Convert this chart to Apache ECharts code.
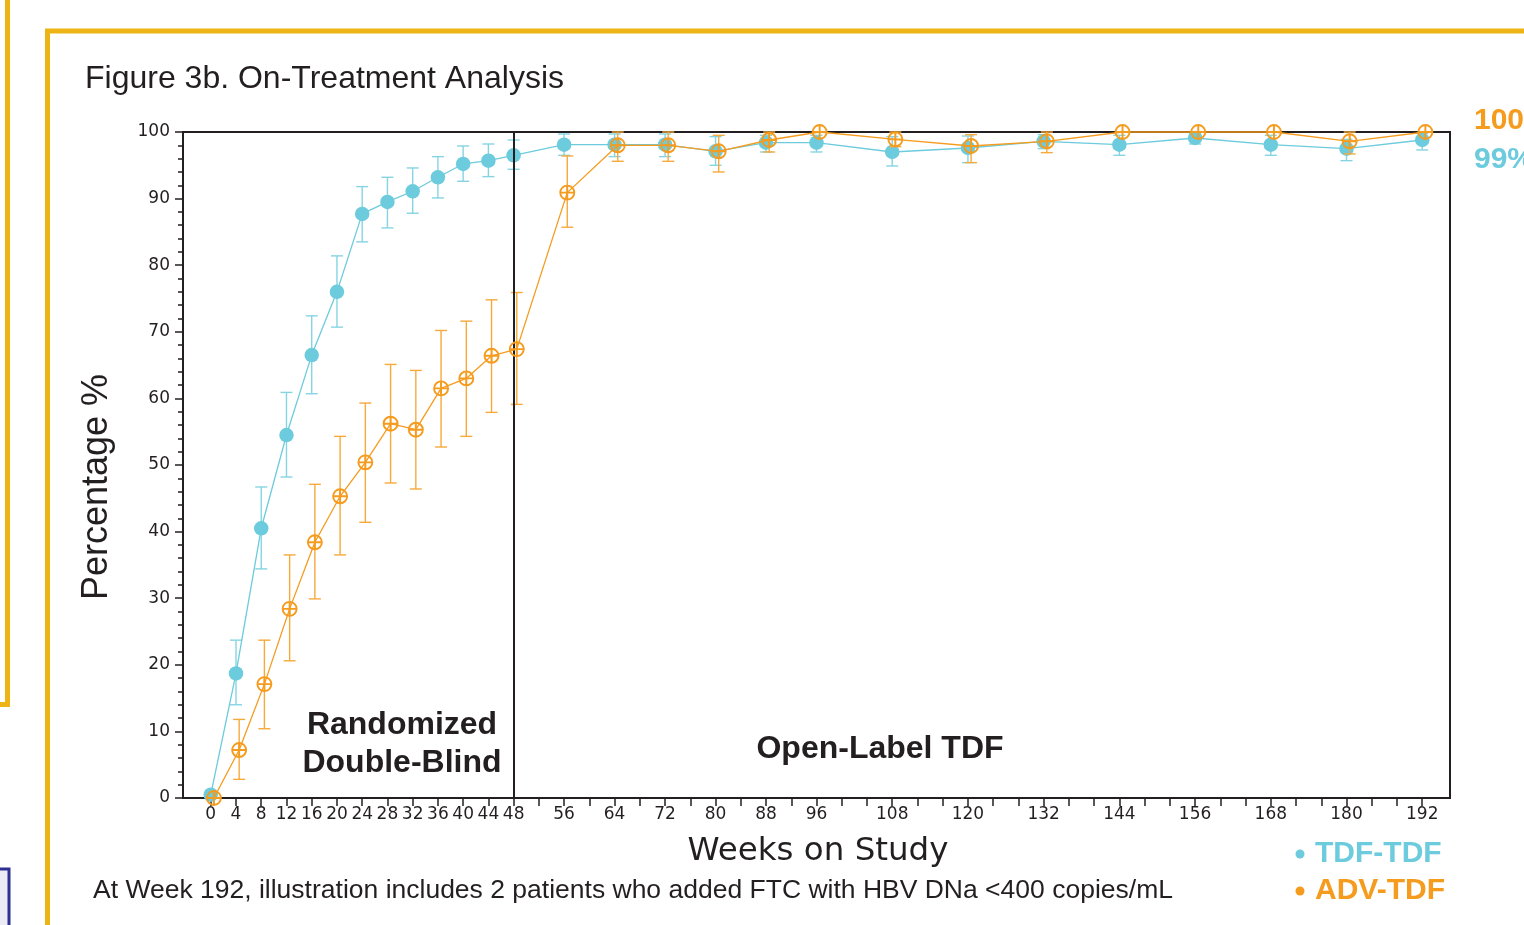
<!DOCTYPE html>
<html>
<head>
<meta charset="utf-8">
<title>Figure 3b. On-Treatment Analysis</title>
<script src="https://cdn.jsdelivr.net/npm/echarts@6/dist/echarts.min.js"></script>
<style>
  html, body { margin: 0; padding: 0; background: #fff; }
  #chart { width: 1524px; height: 925px; }
</style>
</head>
<body>
<div id="chart"></div>
<script type="text/javascript">
// weeks on study
var weeks = [0, 4, 8, 12, 16, 20, 24, 28, 32, 36, 40, 44, 48, 56, 64, 72, 80, 88, 96, 108, 120, 132, 144, 156, 168, 180, 192];
var weekLabels = [0, 4, 8, 12, 16, 20, 24, 28, 32, 36, 40, 44, 48, 56, 64, 72, 80, 88, 96, 108, 120, 132, 144, 156, 168, 180, 192];
var weekTicks = [];
for (var t = 0; t <= 192; t += 4) weekTicks.push(t);

// TDF-TDF: % with HBV DNA < 400 copies/mL, with error bar ends
var tdfPct  = [0.5, 18.7, 40.5, 54.5, 66.5, 76.0, 87.7, 89.5, 91.1, 93.2, 95.2, 95.7, 96.5, 98.1, 98.1, 98.1, 97.1, 98.4, 98.4, 97.0, 97.6, 98.6, 98.1, 99.1, 98.1, 97.5, 98.8];
var tdfLow  = [0.5, 14.0, 34.4, 48.2, 60.7, 70.7, 83.5, 85.6, 87.8, 90.1, 92.6, 93.3, 94.4, 96.5, 96.3, 96.3, 95.0, 97.0, 97.0, 94.9, 95.4, 97.5, 96.5, 98.2, 96.5, 95.7, 97.3];
var tdfHigh = [0.5, 23.7, 46.7, 60.9, 72.4, 81.4, 91.8, 93.2, 94.6, 96.3, 97.9, 98.2, 98.8, 99.7, 99.7, 99.7, 99.3, 99.5, 99.5, 99.3, 99.4, 99.6, 99.5, 99.8, 99.5, 98.9, 99.8];

// ADV-TDF
var advPct  = [0, 7.2, 17.1, 28.4, 38.4, 45.3, 50.4, 56.2, 55.3, 61.5, 63.0, 66.4, 67.4, 90.9, 98.0, 98.0, 97.1, 98.8, 100, 98.9, 97.9, 98.6, 100, 100, 100, 98.6, 100];
var advLow  = [0, 2.8, 10.4, 20.6, 29.9, 36.5, 41.4, 47.3, 46.4, 52.7, 54.3, 57.9, 59.1, 85.7, 95.6, 95.6, 94.0, 97.0, 100, 97.8, 95.4, 96.9, 100, 100, 100, 96.7, 100];
var advHigh = [0, 11.8, 23.7, 36.5, 47.1, 54.3, 59.3, 65.1, 64.2, 70.2, 71.6, 74.8, 75.9, 96.4, 100, 100, 99.5, 100, 100, 100, 99.6, 100, 100, 100, 100, 100, 100];

var CYAN = '#6ccbdc', CYAN_BAR = '#86d4e2';
var ORANGE = '#f59b1e', ORANGE_BAR = '#f7a93c';
var GOLD = '#ecb415', INK = '#231f20';
var DODGE = 0.5; // ADV-TDF points are drawn slightly right of TDF-TDF

var chart = echarts.init(document.getElementById('chart'));

function pts(xs, ys, dx) {
  return xs.map(function (x, i) { return [x + dx, ys[i]]; });
}
function bars(xs, lo, hi, dx) {
  return xs.map(function (x, i) { return [x + dx, lo[i], hi[i]]; });
}
function errorBar(color) {
  return function (params, api) {
    var x = api.value(0), lo = api.value(1), hi = api.value(2);
    if (hi <= lo) return null;
    var a = api.coord([x, hi]), b = api.coord([x, lo]);
    var w = 6, st = { stroke: color, lineWidth: 1.4 };
    return {
      type: 'group',
      children: [
        { type: 'line', shape: { x1: a[0], y1: a[1], x2: b[0], y2: b[1] }, style: st },
        { type: 'line', shape: { x1: a[0] - w, y1: a[1], x2: a[0] + w, y2: a[1] }, style: st },
        { type: 'line', shape: { x1: b[0] - w, y1: b[1], x2: b[0] + w, y2: b[1] }, style: st }
      ]
    };
  };
}

var circleCross = 'path://M1,10A9,9 0 1,1 19,10A9,9 0 1,1 1,10Z M10,1L10,19 M1,10L19,10';

var option = {
  animation: false,
  grid: {
    left: 183, right: 74, top: 132, bottom: 127,
    show: true, borderColor: INK, borderWidth: 2, backgroundColor: 'transparent'
  },
  xAxis: {
    type: 'value', min: -4.4, max: 196.4,
    axisLine: { onZero: false, lineStyle: { color: INK, width: 2 } },
    axisTick: { show: true, length: 8, lineStyle: { color: INK, width: 1.5 }, customValues: weekTicks },
    axisLabel: { customValues: weekLabels, color: INK, fontFamily: 'DejaVu Sans', fontSize: 17, margin: 8 },
    splitLine: { show: false }
  },
  yAxis: {
    type: 'value', min: 0, max: 100, interval: 10,
    axisLine: { show: true, onZero: false, lineStyle: { color: INK, width: 2 } },
    axisTick: { show: true, length: 8, lineStyle: { color: INK, width: 1.5 } },
    minorTick: { show: true, splitNumber: 5, length: 5, lineStyle: { color: INK, width: 1.5 } },
    axisLabel: { color: INK, fontFamily: 'DejaVu Sans', fontSize: 17, margin: 13 },
    splitLine: { show: false }
  },
  series: [
    {
      type: 'custom', name: 'TDF-TDF bars', clip: false, z: 2,
      renderItem: errorBar(CYAN_BAR),
      encode: { x: 0, y: [1, 2] },
      data: bars(weeks, tdfLow, tdfHigh, 0)
    },
    {
      type: 'line', name: 'TDF-TDF', clip: false, z: 3,
      data: pts(weeks, tdfPct, 0),
      symbol: 'circle', symbolSize: 14.5,
      itemStyle: { color: CYAN },
      lineStyle: { color: CYAN, width: 1.3 },
      markLine: {
        silent: true, symbol: 'none', label: { show: false },
        lineStyle: { color: INK, width: 2, type: 'solid' },
        data: [{ xAxis: 48 }]
      }
    },
    {
      type: 'custom', name: 'ADV-TDF bars', clip: false, z: 4,
      renderItem: errorBar(ORANGE_BAR),
      encode: { x: 0, y: [1, 2] },
      data: bars(weeks, advLow, advHigh, DODGE)
    },
    {
      type: 'line', name: 'ADV-TDF', clip: false, z: 5,
      data: pts(weeks, advPct, DODGE),
      symbol: circleCross, symbolSize: 14,
      itemStyle: { color: 'rgba(255,255,255,0)', borderColor: ORANGE, borderWidth: 1.9 },
      lineStyle: { color: ORANGE, width: 1.3 }
    }
  ],
  graphic: [
    // page frames
    { type: 'rect', shape: { x: 47.5, y: 31, width: 2000, height: 2000 }, style: { fill: 'none', stroke: GOLD, lineWidth: 5 }, z: 0 },
    { type: 'rect', shape: { x: -100, y: -100, width: 107.5, height: 804.5 }, style: { fill: 'none', stroke: GOLD, lineWidth: 5 }, z: 0 },
    { type: 'rect', shape: { x: -100, y: 869, width: 109, height: 200 }, style: { fill: '#ecebf5', stroke: '#2e3192', lineWidth: 3 }, z: 0 },
    // titles and labels
    { type: 'text', x: 85, y: 79, style: { text: 'Figure 3b. On-Treatment Analysis', font: '32px "Liberation Sans", Arial, sans-serif', fill: INK, textVerticalAlign: 'middle' } },
    { type: 'text', x: 97, y: 487, rotation: Math.PI / 2, style: { text: 'Percentage %', font: '36px "Liberation Sans", Arial, sans-serif', fill: INK, textAlign: 'center', textVerticalAlign: 'middle' } },
    { type: 'text', x: 818, y: 852, style: { text: 'Weeks on Study', font: '32.5px "DejaVu Sans", sans-serif', fill: INK, textAlign: 'center', textVerticalAlign: 'middle' } },
    { type: 'text', x: 93, y: 891, style: { text: 'At Week 192, illustration includes 2 patients who added FTC with HBV DNa <400 copies/mL', font: '26.5px "Liberation Sans", Arial, sans-serif', fill: INK, textVerticalAlign: 'middle' } },
    { type: 'text', x: 402, y: 725, style: { text: 'Randomized', font: 'bold 32px "Liberation Sans", Arial, sans-serif', fill: INK, textAlign: 'center', textVerticalAlign: 'middle' } },
    { type: 'text', x: 402, y: 763, style: { text: 'Double-Blind', font: 'bold 32px "Liberation Sans", Arial, sans-serif', fill: INK, textAlign: 'center', textVerticalAlign: 'middle' } },
    { type: 'text', x: 880, y: 749, style: { text: 'Open-Label TDF', font: 'bold 32px "Liberation Sans", Arial, sans-serif', fill: INK, textAlign: 'center', textVerticalAlign: 'middle' } },
    // end-point values
    { type: 'text', x: 1474, y: 121, style: { text: '100', font: 'bold 30px "Liberation Sans", Arial, sans-serif', fill: ORANGE, textVerticalAlign: 'middle' } },
    { type: 'text', x: 1474, y: 160, style: { text: '99%', font: 'bold 30px "Liberation Sans", Arial, sans-serif', fill: CYAN, textVerticalAlign: 'middle' } },
    // legend
    { type: 'circle', shape: { cx: 1300, cy: 854, r: 4.5 }, style: { fill: CYAN } },
    { type: 'text', x: 1315, y: 854, style: { text: 'TDF-TDF', font: 'bold 30px "Liberation Sans", Arial, sans-serif', fill: CYAN, textVerticalAlign: 'middle' } },
    { type: 'circle', shape: { cx: 1300, cy: 891, r: 4.5 }, style: { fill: ORANGE } },
    { type: 'text', x: 1315, y: 891, style: { text: 'ADV-TDF', font: 'bold 30px "Liberation Sans", Arial, sans-serif', fill: ORANGE, textVerticalAlign: 'middle' } }
  ]
};

chart.setOption(option);
</script>
</body>
</html>
